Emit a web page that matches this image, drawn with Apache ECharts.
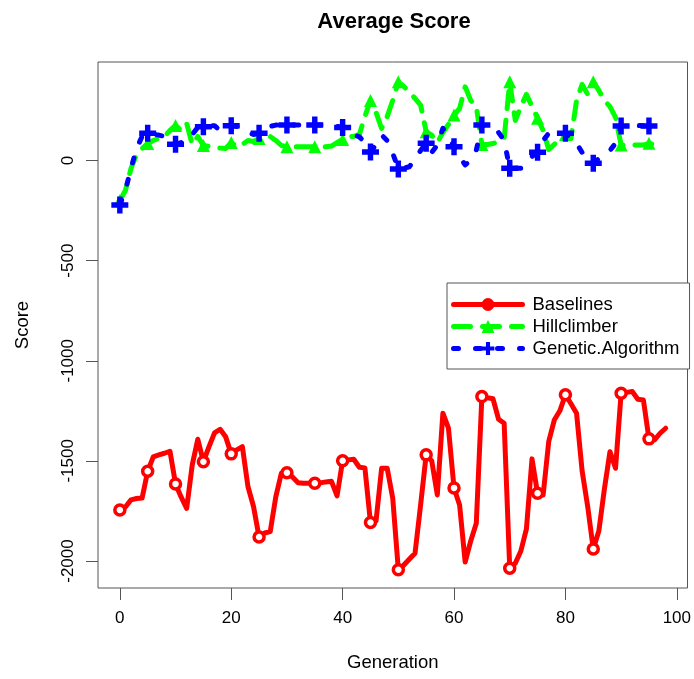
<!DOCTYPE html>
<html>
<head>
<meta charset="utf-8">
<script src="https://cdn.jsdelivr.net/npm/echarts@6/dist/echarts.min.js"></script>
<style>
  html, body { margin: 0; padding: 0; background: #ffffff; }
  #chart { width: 694px; height: 679px; }
</style>
</head>
<body>
<div id="chart"></div>
<script>
// Average score per generation for three search strategies (generation = array index)
const baselines = [
  -1745, -1730, -1695, -1688, -1685, -1552, -1480, -1470, -1462, -1452,
  -1615, -1680, -1737, -1520, -1392, -1504, -1430, -1360, -1342, -1380,
  -1465, -1445, -1429, -1628, -1728, -1880, -1860, -1853, -1680, -1562,
  -1559, -1580, -1609, -1612, -1612, -1612, -1610, -1605, -1602, -1675,
  -1499, -1495, -1492, -1532, -1535, -1808, -1800, -1537, -1537, -1687,
  -2044, -2020, -1990, -1961, -1720, -1470, -1500, -1670, -1262, -1337,
  -1635, -1720, -2005, -1900, -1811, -1179, -1185, -1190, -1292, -1312,
  -2036, -2011, -1950, -1840, -1490, -1662, -1670, -1404, -1296, -1250,
  -1170, -1215, -1262, -1550, -1728, -1940, -1850, -1640, -1454, -1537,
  -1162, -1158, -1154, -1192, -1196, -1390, -1395, -1362, -1337
];
const hillclimber = [
  -200, -150, -40, 30, 60, 85, 100, 110, 120, 150,
  175, 150, 185, 80, 120, 75, 70, 65, 62, 60,
  90, 70, 80, 100, 95, 110, 105, 120, 100, 75,
  69, 69, 69, 69, 69, 69, 69, 69, 72, 90,
  105, 118, 120, 130, 220, 300, 240, 160, 219, 300,
  393, 370, 340, 310, 277, 144, 127, 90, 140, 180,
  227, 260, 368, 300, 270, 80, 80, 85, 95, 110,
  393, 200, 270, 330, 270, 211, 150, 55, 80, 110,
  130, 110, 300, 380, 330, 393, 350, 300, 269, 215,
  77, 77, 77, 77, 77, 86, 80
];
const geneticAlgorithm = [
  -222, -150, -40, 60, 120, 136, 130, 127, 120, 100,
  81, 90, 94, 130, 165, 169, 172, 174, 150, 165,
  174, 170, 160, 140, 130, 136, 150, 170, 177, 177,
  177, 177, 177, 177, 177, 177, 177, 175, 172, 170,
  165, 150, 130, 118, 90, 42, 80, 127, 100, 36,
  -42, -38, -31, 10, 50, 86, 40, 77, 161, 120,
  69, 20, -22, 0, 52, 177, 170, 150, 140, 100,
  -39, -39, -39, 0, 20, 41, 100, 136, 140, 138,
  136, 110, 86, 40, 0, -14, 10, 24, 50, 86,
  172, 175, 175, 175, 173, 172, 172
];
const seriesNames = ['Baselines', 'Hillclimber', 'Genetic.Algorithm'];
const xTicks = [0, 20, 40, 60, 80, 100];
const yTicks = [-2000, -1500, -1000, -500, 0];

const FONT = '"Liberation Sans", Arial, sans-serif';
const MARK_EVERY = 5;
const PLUS = 'path://M3.4,0h3.2v3.4h3.4v3.2h-3.4v3.4h-3.2v-3.4h-3.4v-3.2h3.4z';

// points carry a marker only every few generations
function toPoints(values) {
  return values.map((v, i) => i % MARK_EVERY === 0 ? [i, v] : { value: [i, v], symbol: 'none' });
}

const chart = echarts.init(document.getElementById('chart'), null, { renderer: 'canvas' });

chart.setOption({
  animation: false,
  backgroundColor: '#ffffff',
  title: {
    text: 'Average Score',
    left: 389,
    top: 6,
    textAlign: 'center',
    textStyle: { fontFamily: FONT, fontWeight: 'bold', fontSize: 22, color: '#000' }
  },
  grid: {
    left: 98, right: 6, top: 62, bottom: 91,
    show: true, borderColor: '#555', borderWidth: 1, backgroundColor: 'transparent'
  },
  legend: {
    orient: 'vertical',
    left: 447,
    top: 283,
    padding: [12, 10, 11, 4],
    itemWidth: 69,
    itemHeight: 16,
    itemGap: 3,
    backgroundColor: '#fff',
    borderColor: '#555',
    borderWidth: 1,
    borderRadius: 0,
    selectedMode: false,
    lineStyle: { width: 5, cap: 'round' },
    textStyle: { fontFamily: FONT, fontSize: 18.5, color: '#000', padding: [0, 0, 0, 5] },
    data: [
      { name: seriesNames[0], itemStyle: { color: '#ff0000', borderWidth: 0 } },
      { name: seriesNames[1] },
      { name: seriesNames[2] }
    ]
  },
  xAxis: {
    type: 'value',
    min: -3.92,
    max: 101.92,
    name: 'Generation',
    nameLocation: 'middle',
    nameGap: 65,
    nameTextStyle: { fontFamily: FONT, fontSize: 18.5, color: '#000' },
    axisLine: { show: false, onZero: false },
    axisTick: { show: true, length: 12, customValues: xTicks, lineStyle: { color: '#555' } },
    axisLabel: { customValues: xTicks, margin: 22, fontFamily: FONT, fontSize: 17, color: '#000' },
    splitLine: { show: false }
  },
  yAxis: {
    type: 'value',
    min: -2134.8,
    max: 491.9,
    name: 'Score',
    nameLocation: 'middle',
    nameGap: 66,
    nameTextStyle: { fontFamily: FONT, fontSize: 18.5, color: '#000' },
    axisLine: { show: false, onZero: false },
    axisTick: { show: true, length: 12, customValues: yTicks, lineStyle: { color: '#555' } },
    axisLabel: {
      customValues: yTicks, rotate: 90, margin: 21,
      formatter: (v) => String(v),
      fontFamily: FONT, fontSize: 17, color: '#000'
    },
    splitLine: { show: false }
  },
  series: [
    {
      name: seriesNames[0],
      type: 'line',
      data: toPoints(baselines),
      symbol: 'circle',
      symbolSize: 10,
      color: '#ff0000',
      itemStyle: { color: '#ffffff', borderColor: '#ff0000', borderWidth: 3.5 },
      lineStyle: { color: '#ff0000', width: 5, cap: 'round', join: 'round' },
      emphasis: { disabled: true },
      z: 2
    },
    {
      name: seriesNames[1],
      type: 'line',
      data: toPoints(hillclimber),
      symbol: 'triangle',
      symbolSize: 13,
      color: '#00ff00',
      itemStyle: { color: '#00ff00' },
      lineStyle: { color: '#00ff00', width: 5, type: [17, 12], cap: 'round', join: 'round' },
      emphasis: { disabled: true },
      z: 3
    },
    {
      name: seriesNames[2],
      type: 'line',
      data: toPoints(geneticAlgorithm),
      symbol: PLUS,
      symbolSize: 17,
      color: '#0000ff',
      itemStyle: { color: '#0000ff' },
      lineStyle: { color: '#0000ff', width: 5, type: [5, 17], cap: 'round', join: 'round' },
      emphasis: { disabled: true },
      z: 4
    }
  ]
});
</script>
</body>
</html>
